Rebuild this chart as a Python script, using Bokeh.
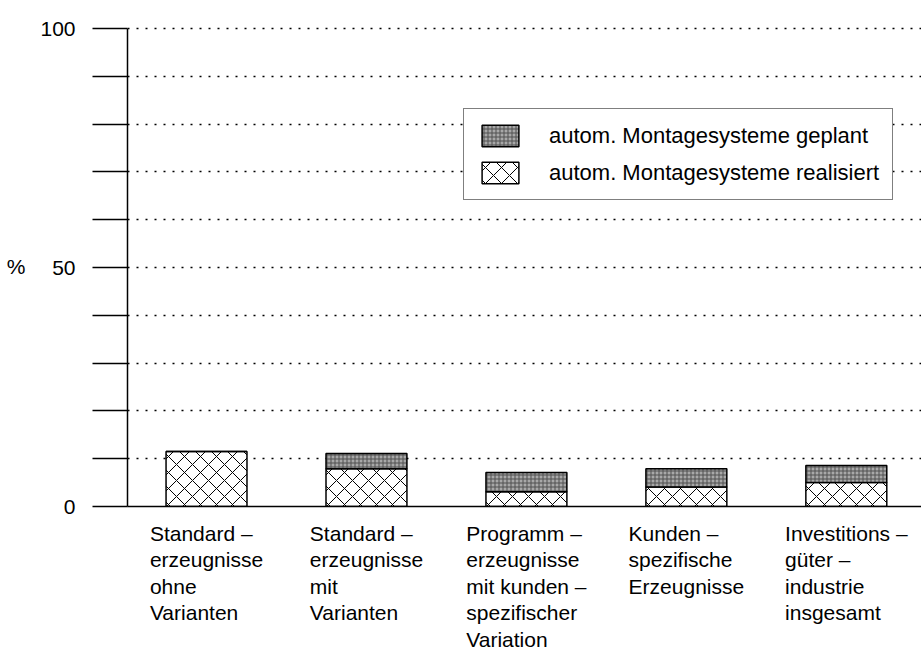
from bokeh.plotting import figure
from bokeh.layouts import column
from bokeh.models import (ColumnDataSource, FixedTicker, Legend, LegendItem,
                          Range1d)
from bokeh.core.properties import value
from bokeh.embed import file_html
from bokeh.resources import INLINE

# ---- data ----
categories = [
    "Standard –\nerzeugnisse\nohne\nVarianten",
    "Standard –\nerzeugnisse\nmit\nVarianten",
    "Programm –\nerzeugnisse\nmit kunden –\nspezifischer\nVariation",
    "Kunden –\nspezifische\nErzeugnisse",
    "Investitions –\ngüter –\nindustrie\ninsgesamt",
]
positions = [1, 2, 3, 4, 5]
realisiert = [11.5, 7.9, 3.1, 4.1, 5.0]
geplant = [0.0, 3.2, 4.0, 3.8, 3.6]
y_grid_values = [0, 10, 20, 30, 40, 50, 60, 70, 80, 90, 100]
y_label_values = [0, 50, 100]
y_tick_labels = ["0", "50", "100"]
legend_labels = ["autom. Montagesysteme geplant",
                 "autom. Montagesysteme realisiert"]

# ---- style ----
FONT = "Liberation Sans"
FS = 21           # label font size, px
BAR_W = 0.506
LINE_STEP = 26.5  # px between label lines
LABEL_GAP = 15    # px from baseline to top of first label line
PX_PER_UNIT = 4.78
TOP_PAD = 2       # px of frame above the 100 line so its dots are not clipped
TOP_PX = 28 - TOP_PAD
PLOT_PX = 478 + TOP_PAD
AXIS_PX = 10
W_TOTAL = 921
H_TOTAL = 657
LEFT_PX = 127

# approximate advance widths (1/1000 em) of Liberation Sans, for centring
ADV = {' ': 278, '–': 556, 'a': 556, 'b': 556, 'c': 500, 'd': 556, 'e': 556,
       'f': 278, 'g': 556, 'h': 556, 'i': 222, 'j': 222, 'k': 500, 'l': 222,
       'm': 833, 'n': 556, 'o': 556, 'p': 556, 'r': 333, 's': 500, 't': 278,
       'u': 556, 'v': 500, 'z': 500, 'ü': 556, 'S': 667, 'P': 667, 'V': 667,
       'K': 667, 'E': 667, 'I': 278}


def block_width(txt):
    return max(sum(ADV.get(c, 556) for c in ln) for ln in txt.split("\n")) * FS / 1000


top_geplant = [r + g for r, g in zip(realisiert, geplant)]
src = ColumnDataSource(dict(x=positions, real=realisiert, top=top_geplant,
                            zero=[0] * len(positions)))

# ---- main chart ----
y_end = max(y_grid_values) + TOP_PAD / PX_PER_UNIT
p = figure(width=W_TOTAL, height=TOP_PX + PLOT_PX + AXIS_PX,
           output_backend="svg", toolbar_location=None,
           x_range=Range1d(0.506, 5.47), y_range=Range1d(0, y_end),
           min_border_left=LEFT_PX, min_border_top=TOP_PX,
           min_border_bottom=AXIS_PX, min_border_right=0)
p.outline_line_color = None
p.background_fill_color = "white"

p.xgrid.grid_line_color = None
p.ygrid.ticker = FixedTicker(ticks=y_grid_values)
p.ygrid.grid_line_color = "black"
p.ygrid.grid_line_dash = "2 7"
p.ygrid.grid_line_width = 1.5

r_real = p.vbar(x="x", bottom="zero", top="real", width=BAR_W, source=src,
                fill_color="white", line_color="black", line_width=1.5,
                hatch_pattern="diagonal_cross", hatch_scale=16,
                hatch_color="black", hatch_weight=1)
r_plan = p.vbar(x="x", bottom="real", top="top", width=BAR_W, source=src,
                fill_color="#a8a8a8", line_color="black", line_width=1.5,
                hatch_pattern="cross", hatch_scale=4,
                hatch_color="#505050", hatch_weight=1)

minor_vals = [v for v in y_grid_values if v not in y_label_values]
p.yaxis.bounds = (min(y_grid_values), max(y_grid_values))
p.yaxis.ticker = FixedTicker(ticks=y_label_values, minor_ticks=minor_vals)
p.yaxis.major_label_overrides = {v: l for v, l in zip(y_label_values, y_tick_labels)}
p.yaxis.major_tick_in = 0
p.yaxis.major_tick_out = 35
p.yaxis.minor_tick_in = 0
p.yaxis.minor_tick_out = 35
p.yaxis.major_tick_line_width = 1.5
p.yaxis.minor_tick_line_width = 1.5
p.yaxis.major_tick_line_color = "black"
p.yaxis.minor_tick_line_color = "black"
p.yaxis.axis_line_width = 1.5
p.yaxis.axis_line_color = "black"
p.yaxis.major_label_standoff = 17
p.yaxis.major_label_text_font = FONT
p.yaxis.major_label_text_font_size = f"{FS}px"
p.yaxis.major_label_text_color = "black"
p.yaxis.axis_label = "%"
p.yaxis.axis_label_orientation = "horizontal"
p.yaxis.axis_label_text_font = FONT
p.yaxis.axis_label_text_font_style = "normal"
p.yaxis.axis_label_text_font_size = f"{FS}px"
p.yaxis.axis_label_text_color = "black"
p.yaxis.axis_label_standoff = 12

# x axis: baseline only
p.xaxis.ticker = FixedTicker(ticks=[])
p.xaxis.major_tick_out = 0
p.xaxis.major_tick_in = 0
p.xaxis.minor_tick_line_color = None
p.xaxis.major_label_standoff = 0
p.xaxis.axis_line_width = 1.5
p.xaxis.axis_line_color = "black"

legend = Legend(items=[LegendItem(label=legend_labels[0], renderers=[r_plan]),
                       LegendItem(label=legend_labels[1], renderers=[r_real])],
                location=(336, 306), glyph_width=46, glyph_height=27,
                label_standoff=26, spacing=10, padding=13, margin=0,
                label_text_font=FONT, label_text_font_size="22px",
                label_text_color="black", border_line_color="black",
                border_line_width=1.5, background_fill_alpha=1.0)
p.add_layout(legend)

# ---- category labels (strip under the chart, shared x scale) ----
lab_h = H_TOTAL - (TOP_PX + PLOT_PX + AXIS_PX)
lx, ly, lt, xoff, yoff = [], [], [], [], []
for pos, cat in zip(positions, categories):
    bw = block_width(cat)
    for j, line in enumerate(cat.split("\n")):
        lx.append(pos)
        ly.append(0)
        lt.append(line)
        xoff.append(-bw / 2)
        yoff.append(LABEL_GAP - AXIS_PX + LINE_STEP * j)
lab_src = ColumnDataSource(dict(x=lx, y=ly, text=lt, xoff=xoff, yoff=yoff))

p2 = figure(width=W_TOTAL, height=lab_h, output_backend="svg",
            toolbar_location=None, x_range=p.x_range,
            y_range=Range1d(-lab_h, 0),
            min_border_left=LEFT_PX, min_border_right=0,
            min_border_top=0, min_border_bottom=0)
p2.outline_line_color = None
p2.xaxis.visible = False
p2.yaxis.visible = False
p2.grid.grid_line_color = None
p2.text(x="x", y="y", text="text", source=lab_src, x_offset="xoff",
        y_offset="yoff", text_align="left", text_baseline="top",
        text_font=value(FONT), text_font_size=f"{FS}px", text_color="black")

layout = column(p, p2, spacing=0)
open("out.html", "w").write(file_html(layout, INLINE))
